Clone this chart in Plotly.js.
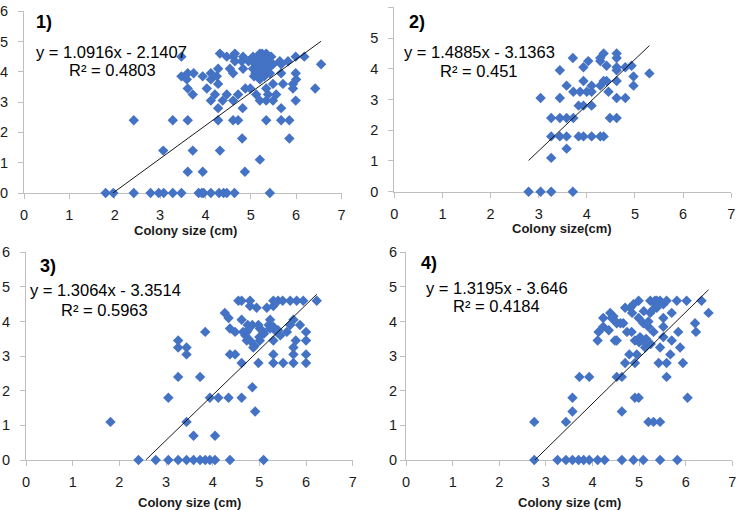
<!DOCTYPE html>
<html>
<head>
<meta charset="utf-8">
<script src="https://cdn.plot.ly/plotly-3.0.1.min.js"></script>
<style>
  html, body { margin: 0; padding: 0; background: #fff; }
  #chart { width: 737px; height: 510px; }
</style>
</head>
<body>
<div id="chart"></div>
<script>
// Panel 1: colony size (cm) vs. score
const size1 = [
  1.80, 1.97, 2.42, 2.79, 2.97, 3.08, 3.28, 3.47, 3.85, 3.92, 3.96, 4.12, 4.30, 4.40, 4.47, 4.64, 5.42,
  3.61, 3.94, 4.87,
  5.20,
  3.07, 3.72, 4.32,
  4.81, 5.85,
  2.42, 3.28, 3.61, 4.28, 4.61, 4.72, 5.34, 5.67, 5.85,
  4.28, 4.82, 5.67,
  4.12, 4.38, 4.61, 5.20, 5.34, 5.49, 5.99,
  3.72, 4.21, 4.47, 4.72, 5.12, 5.38, 5.56,
  3.61, 4.03, 4.88, 4.99, 5.34, 5.93, 6.42,
  4.28, 5.49, 5.71, 5.93,
  3.59, 4.12, 5.20, 6.00,
  3.47, 3.94, 4.25, 5.07, 5.15, 5.30,
  3.61, 3.74, 4.12, 4.61, 5.42, 5.67, 5.99, 5.10, 5.25,
  4.28, 4.54, 4.83, 5.05, 5.15, 5.22, 5.30, 5.38,
  5.49, 5.67, 6.55, 5.10, 5.20, 5.28,
  4.65, 4.80, 4.95, 5.05, 5.12, 5.20, 5.30, 5.40, 5.64, 5.82,
  3.47, 4.47, 4.61, 4.83, 5.20, 5.34, 5.99, 6.18, 5.05, 5.45,
  4.32, 4.65, 5.20, 5.34, 5.25
];
const value1 = [
  0, 0, 0, 0, 0, 0, 0, 0, 0, 0, 0, 0, 0, 0, 0, 0, 0,
  0.7, 0.7, 0.7,
  1.1,
  1.4, 1.4, 1.4,
  1.8, 1.8,
  2.4, 2.4, 2.4, 2.4, 2.4, 2.4, 2.4, 2.4, 2.4,
  2.8, 2.8, 2.8,
  3.05, 3.05, 3.05, 3.05, 3.05, 3.05, 3.05,
  3.25, 3.25, 3.25, 3.25, 3.25, 3.25, 3.25,
  3.45, 3.45, 3.45, 3.45, 3.45, 3.45, 3.45,
  3.6, 3.6, 3.6, 3.6,
  3.75, 3.75, 3.75, 3.75,
  3.85, 3.85, 3.85, 3.85, 3.85, 3.85,
  3.95, 3.95, 3.95, 3.95, 3.95, 3.95, 3.95, 3.95, 3.95,
  4.1, 4.1, 4.1, 4.1, 4.1, 4.1, 4.1, 4.1,
  4.25, 4.25, 4.25, 4.25, 4.25, 4.25,
  4.35, 4.35, 4.35, 4.35, 4.35, 4.35, 4.35, 4.35, 4.35, 4.35,
  4.5, 4.5, 4.5, 4.5, 4.5, 4.5, 4.5, 4.5, 4.5, 4.5,
  4.6, 4.6, 4.6, 4.6, 4.6
];

// Panel 2
const size2 = [
  2.79, 3.04, 3.26, 3.71,
  3.26,
  3.58,
  3.26, 3.44, 3.58, 3.83, 3.93, 4.10, 4.28, 4.35,
  3.26, 3.44, 3.58, 3.72, 4.48, 4.62,
  3.83, 3.93, 4.10,
  3.04, 3.44, 4.62, 4.80,
  3.72, 3.86, 4.00, 4.10, 4.45,
  3.58, 4.10, 4.28, 4.97,
  3.93, 4.35, 4.41, 4.62,
  4.97,
  5.30,
  3.44, 4.62,
  3.93, 4.62, 4.80,
  4.41, 4.93,
  4.03, 4.28,
  3.71, 4.28, 4.62,
  4.35, 4.62
];
const value2 = [
  0, 0, 0, 0,
  1.1,
  1.4,
  1.8, 1.8, 1.8, 1.8, 1.8, 1.8, 1.8, 1.8,
  2.4, 2.4, 2.4, 2.4, 2.4, 2.4,
  2.8, 2.8, 2.8,
  3.05, 3.05, 3.05, 3.05,
  3.25, 3.25, 3.25, 3.25, 3.25,
  3.45, 3.45, 3.45, 3.45,
  3.6, 3.6, 3.6, 3.6,
  3.75,
  3.85,
  3.95, 3.95,
  4.05, 4.05, 4.05,
  4.1, 4.1,
  4.25, 4.25,
  4.35, 4.35, 4.35,
  4.5, 4.5
];

// Panel 3
const size3 = [
  2.41, 2.78, 3.05, 3.26, 3.44, 3.59, 3.73, 3.84, 3.94, 4.05, 4.37, 5.09,
  3.59, 4.05,
  1.81, 3.44,
  4.91,
  3.05, 3.94, 4.12, 4.34, 4.62,
  4.85,
  3.26, 3.73,
  4.62, 4.98, 5.30, 5.51, 5.73, 6.00,
  3.44, 4.37, 4.48, 5.30, 5.73, 6.00,
  3.26, 3.44, 4.87, 5.73,
  3.26, 4.73, 5.01, 5.30, 5.78, 6.00,
  3.84, 4.48, 4.73, 5.09, 5.37, 5.59, 6.00,
  4.37, 5.01, 5.23,
  4.75, 4.85, 4.98, 5.66, 5.87,
  4.62, 5.23, 5.73,
  4.34,
  4.26,
  4.94, 5.16,
  4.80, 5.30,
  4.55, 4.62, 4.80, 5.30, 5.40, 5.50, 5.66, 5.80, 5.94, 6.23,
  4.70, 4.80, 4.90, 5.00, 5.10, 5.20, 5.30, 5.40, 5.45, 4.65, 4.75
];
const value3 = [
  0, 0, 0, 0, 0, 0, 0, 0, 0, 0, 0, 0,
  0.7, 0.7,
  1.1, 1.1,
  1.4,
  1.8, 1.8, 1.8, 1.8, 1.8,
  2.1,
  2.4, 2.4,
  2.8, 2.8, 2.8, 2.8, 2.8, 2.8,
  3.05, 3.05, 3.05, 3.05, 3.05, 3.05,
  3.25, 3.25, 3.25, 3.25,
  3.45, 3.45, 3.45, 3.45, 3.45, 3.45,
  3.7, 3.7, 3.7, 3.7, 3.7, 3.7, 3.7,
  3.8, 3.8, 3.8,
  3.9, 3.9, 3.9, 3.9, 3.9,
  4.05, 4.05, 4.05,
  4.1,
  4.25,
  4.4, 4.4,
  4.45, 4.45,
  4.6, 4.6, 4.6, 4.6, 4.6, 4.6, 4.6, 4.6, 4.6, 4.6,
  3.6, 3.45, 3.3, 3.55, 3.65, 3.9, 3.85, 3.75, 3.6, 3.7, 3.75
];

// Panel 4
const size4 = [
  2.75, 3.25, 3.43, 3.57, 3.70, 3.81, 3.93, 4.11, 4.26, 4.63, 4.88, 5.09, 5.45, 5.82,
  2.75, 3.43, 5.20, 5.31, 5.45,
  3.57, 4.63,
  3.57, 4.91, 4.99, 6.04,
  3.72, 3.93, 4.52, 4.63, 5.59,
  4.70, 4.91, 5.42, 5.59, 5.94,
  4.79, 4.95, 5.67,
  5.13, 5.45, 5.88,
  4.11, 4.48, 4.52, 4.91, 5.06, 5.70,
  5.02, 5.52,
  4.13, 4.74, 4.84, 5.31, 5.84, 6.22,
  4.23, 5.52, 5.20,
  4.52, 4.66, 5.09, 6.20,
  4.23, 4.41, 4.99, 5.52,
  4.38, 6.49, 5.24, 5.70,
  4.70, 4.81, 5.38,
  4.88, 5.52,
  4.99, 5.24, 5.34, 5.45, 5.59, 5.81, 6.02, 6.34, 5.38,
  4.50, 4.60, 4.35, 4.45, 5.10, 5.20, 5.30, 5.35, 5.15, 5.25, 5.00, 4.85
];
const value4 = [
  0, 0, 0, 0, 0, 0, 0, 0, 0, 0, 0, 0, 0, 0,
  1.1, 1.1, 1.1, 1.1, 1.1,
  1.4, 1.4,
  1.8, 1.8, 1.8, 1.8,
  2.4, 2.4, 2.4, 2.4, 2.4,
  2.8, 2.8, 2.8, 2.8, 2.8,
  3.05, 3.05, 3.05,
  3.25, 3.25, 3.25,
  3.45, 3.45, 3.45, 3.45, 3.45, 3.45,
  3.55, 3.55,
  3.7, 3.7, 3.7, 3.7, 3.7, 3.7,
  3.85, 3.85, 3.85,
  3.95, 3.95, 3.95, 3.95,
  4.1, 4.1, 4.1, 4.1,
  4.25, 4.25, 4.25, 4.25,
  4.4, 4.4, 4.4,
  4.5, 4.5,
  4.6, 4.6, 4.6, 4.6, 4.6, 4.6, 4.6, 4.6, 4.6,
  4.0, 3.95, 3.75, 4.15, 4.3, 4.0, 4.35, 4.5, 3.5, 3.35, 3.4, 4.25
];

// Linear fits shown on each panel: y = slope * x + intercept
const slopes = [1.0916, 1.4885, 1.3064, 1.3195];
const intercepts = [-2.1407, -3.1363, -3.3514, -3.646];
const r2Labels = ['0.4803', '0.451', '0.5963', '0.4184'];
const eqLabels = [
  'y = 1.0916x - 2.1407',
  'y = 1.4885x - 3.1363',
  'y = 1.3064x - 3.3514',
  'y = 1.3195x - 3.646'
];
const panelLabels = ['1)', '2)', '3)', '4)'];
const xTitles = ['Colony size (cm)', 'Colony size(cm)', 'Colony size (cm)', 'Colony size (cm)'];
const xTickLabels = ['0', '1', '2', '3', '4', '5', '6', '7'];
const yTickLabels = ['0', '1', '2', '3', '4', '5', '6'];

const sizes = [size1, size2, size3, size4];
const values = [value1, value2, value3, value4];

const W = 737, H = 510;
const px = x => x / W;
const py = y => 1 - y / H;

// Plot-area boxes in pixels: [left, right, top, bottom]
const boxes = [
  [24, 341.5, 11.2, 193],
  [394.3, 731.2, 7.3, 191.7],
  [26, 352.7, 252.3, 460],
  [406.1, 732.3, 252.3, 460]
];
// Text positions in pixels (centres)
const labelPos = [[44, 22], [416.7, 22.5], [48.3, 265.8], [429.2, 262.5]];
const eqPos = [[111.7, 52], [479.2, 51.7], [105.5, 290], [496.7, 287.5]];
const r2Pos = [[112.5, 70], [479.2, 71], [105, 310], [496.7, 306]];
const titlePos = [[185, 231], [562, 229], [189.7, 502.5], [569.5, 502.5]];
const yLabelStandoff = [7, 7, 7, 0];

const BLUE = '#4472C4';
const AXIS = '#BFBFBF';
const FONT = 'Arial, "Liberation Sans", sans-serif';

const traces = [];
const layout = {
  width: W, height: H,
  margin: { l: 0, r: 0, t: 0, b: 0, pad: 0 },
  paper_bgcolor: '#fff',
  plot_bgcolor: 'rgba(0,0,0,0)',
  showlegend: false,
  font: { family: FONT, color: '#1a1a1a' },
  annotations: []
};

for (let i = 0; i < 4; i++) {
  const n = i === 0 ? '' : String(i + 1);
  const xs = sizes[i], ys = values[i];

  traces.push({
    type: 'scatter', mode: 'markers',
    x: xs, y: ys,
    xaxis: 'x' + n, yaxis: 'y' + n,
    cliponaxis: false,
    marker: { symbol: 'diamond', size: 8, color: BLUE, line: { width: 0 } },
    hoverinfo: 'x+y'
  });

  // Fitted line over the data's x range, kept inside the 0..6 value axis
  const m = slopes[i], b = intercepts[i];
  let x0 = Math.min(...xs), x1 = Math.max(...xs);
  if (m * x0 + b < 0) x0 = -b / m;
  if (m * x1 + b > 6) x1 = (6 - b) / m;
  traces.push({
    type: 'scatter', mode: 'lines',
    x: [x0, x1], y: [m * x0 + b, m * x1 + b],
    xaxis: 'x' + n, yaxis: 'y' + n,
    line: { color: '#000', width: 0.9 },
    hoverinfo: 'skip'
  });

  const [l, r, t, btm] = boxes[i];
  const axisCommon = {
    showgrid: false, zeroline: false,
    showline: true, linecolor: AXIS, linewidth: 1,
    ticks: 'outside', tickcolor: AXIS, ticklen: 5, tickwidth: 1,
    tickfont: { family: FONT, size: 14.5, color: '#1a1a1a' },
    fixedrange: true, layer: 'below traces'
  };
  layout['xaxis' + n] = Object.assign({}, axisCommon, {
    domain: [px(l), px(r)],
    anchor: 'y' + n,
    range: [0, 7],
    tickmode: 'array',
    tickvals: xTickLabels.map(Number),
    ticktext: xTickLabels,
    ticklabelstandoff: 4
  });
  layout['yaxis' + n] = Object.assign({}, axisCommon, {
    domain: [py(btm), py(t)],
    anchor: 'x' + n,
    range: [0, 6],
    tickmode: 'array',
    tickvals: yTickLabels.map(Number),
    ticktext: yTickLabels,
    ticklabelstandoff: yLabelStandoff[i]
  });

  const ann = (text, pos, font) => ({
    text, x: px(pos[0]), y: py(pos[1]),
    xref: 'paper', yref: 'paper',
    xanchor: 'center', yanchor: 'middle',
    showarrow: false, font
  });
  layout.annotations.push(
    ann('<b>' + panelLabels[i] + '</b>', labelPos[i], { family: FONT, size: 18, color: '#000' }),
    ann(eqLabels[i], eqPos[i], { family: FONT, size: 16.5, color: '#000' }),
    ann('R² = ' + r2Labels[i], r2Pos[i], { family: FONT, size: 16.5, color: '#000' }),
    ann('<b>' + xTitles[i] + '</b>', titlePos[i], { family: FONT, size: 13, color: '#1a1a1a' })
  );
}

Plotly.newPlot('chart', traces, layout, { displayModeBar: false, staticPlot: true });
</script>
</body>
</html>
